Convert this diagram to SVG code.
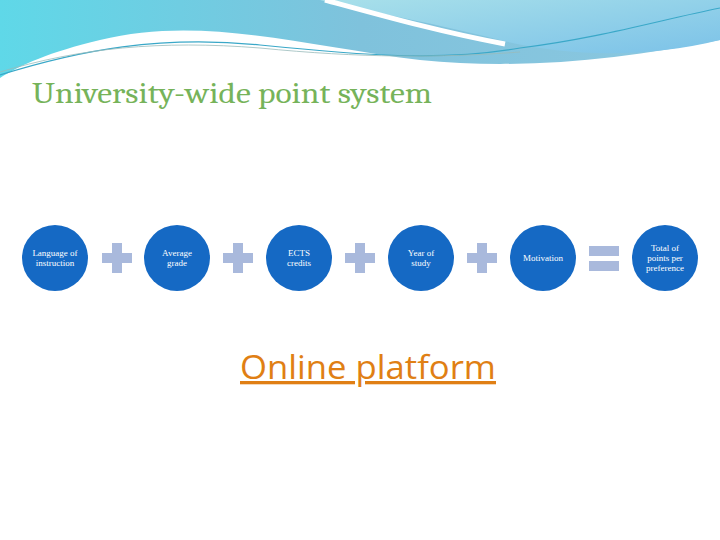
<svg xmlns="http://www.w3.org/2000/svg" width="720" height="540" viewBox="0 0 720 540">
<defs>
<linearGradient id="g1" x1="0" y1="0" x2="1" y2="0"><stop offset="0" stop-color="#5fd8e8"/><stop offset="0.5" stop-color="#7fc2dc"/><stop offset="1" stop-color="#8cc8e0"/></linearGradient>
<linearGradient id="g2" x1="0" y1="0" x2="1" y2="1"><stop offset="0" stop-color="#a8e0ea"/><stop offset="1" stop-color="#7cc2e8"/></linearGradient>
<style>
.c{fill:#1569c4}
.t{font-family:"Liberation Serif",serif;font-size:9px;fill:#fff;text-anchor:middle}
.op{fill:#a9b9dc}
</style>
</defs>
<rect width="720" height="540" fill="#fff"/>
<g id="header">
<path d="M0,0 H720 V40 C620,60 520,70 420,60 C300,45 200,15 100,40 C50,52 20,65 0,78 Z" fill="url(#g1)"/>
<path d="M320,0 H720 V40 C640,60 560,55 500,40 C420,20 360,10 320,0 Z" fill="url(#g2)"/>
<path d="M325,0 C380,15 440,32 505,44" stroke="#fff" stroke-width="5" fill="none"/>
<path d="M0,75 C80,50 160,35 260,45 C360,55 440,62 520,48 C600,38 660,20 720,8" stroke="#3aa8c8" stroke-width="1.2" fill="none"/>
<path d="M0,72 C80,48 160,40 260,48 C360,58 440,58 520,52" stroke="#9bb" stroke-width="0.8" fill="none"/>
</g>
<text x="32" y="103" font-family="Cambria,'Liberation Serif',serif" font-size="29" fill="#76b35a" textLength="400" lengthAdjust="spacingAndGlyphs">University-wide point system</text>
<g id="n1"><circle class="c" cx="55" cy="258" r="33"/><text class="t" x="55" y="256">Language of</text><text class="t" x="55" y="266">instruction</text></g>
<g id="n2"><circle class="c" cx="177" cy="258" r="33"/><text class="t" x="177" y="256">Average</text><text class="t" x="177" y="266">grade</text></g>
<g id="n3"><circle class="c" cx="299" cy="258" r="33"/><text class="t" x="299" y="256">ECTS</text><text class="t" x="299" y="266">credits</text></g>
<g id="n4"><circle class="c" cx="421" cy="258" r="33"/><text class="t" x="421" y="256">Year of</text><text class="t" x="421" y="266">study</text></g>
<g id="n5"><circle class="c" cx="543" cy="258" r="33"/><text class="t" x="543" y="261">Motivation</text></g>
<g id="n6"><circle class="c" cx="665" cy="258" r="33"/><text class="t" x="665" y="251">Total of</text><text class="t" x="665" y="261">points per</text><text class="t" x="665" y="271">preference</text></g>
<g id="connectors">
<path class="op" d="M112,243h10v10h10v10h-10v10h-10v-10h-10v-10h10z"/>
<path class="op" d="M233,243h10v10h10v10h-10v10h-10v-10h-10v-10h10z"/>
<path class="op" d="M355,243h10v10h10v10h-10v10h-10v-10h-10v-10h10z"/>
<path class="op" d="M477,243h10v10h10v10h-10v10h-10v-10h-10v-10h10z"/>
<rect class="op" x="589" y="246" width="30" height="10"/>
<rect class="op" x="589" y="261" width="30" height="10"/>
</g>
<text x="240" y="379" font-family="'Open Sans','Liberation Sans',sans-serif" font-size="33" fill="#e07f14" text-decoration="underline" textLength="256" lengthAdjust="spacingAndGlyphs">Online platform</text>
</svg>
